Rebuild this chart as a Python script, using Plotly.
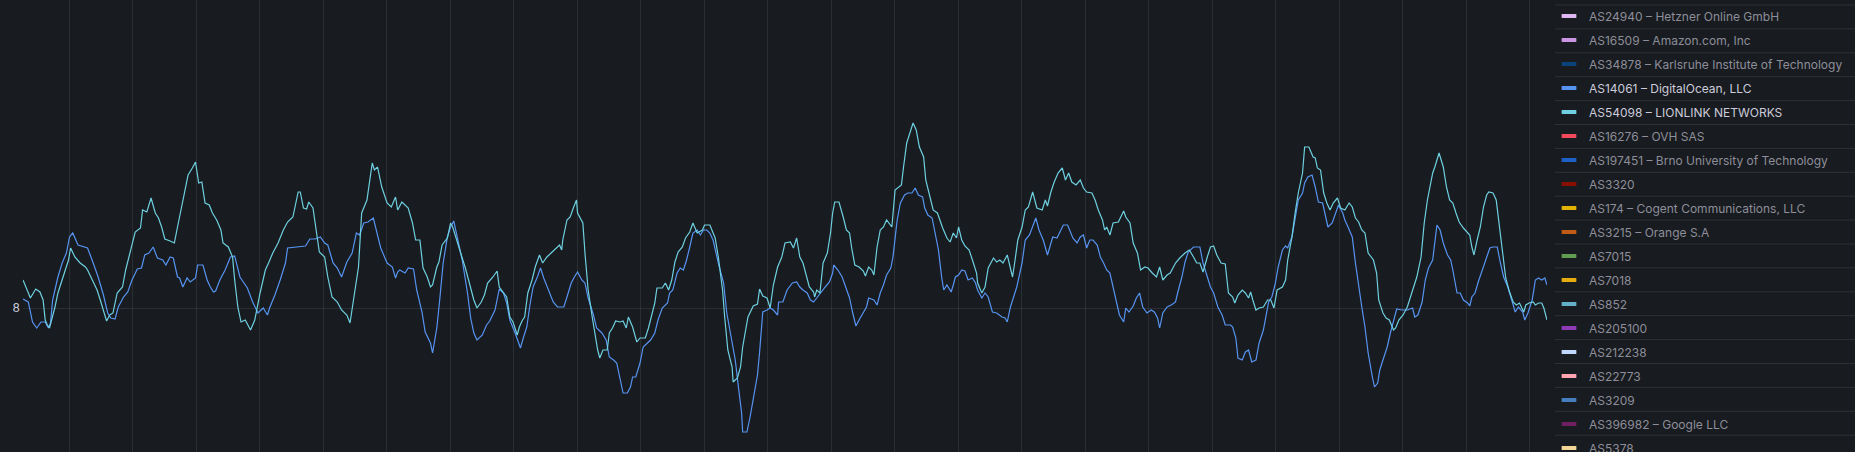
import plotly.graph_objects as go
import pandas as pd

# ---- data: minutes since window start, values ----
lionlink_t = [0,4,7,12,16,19,21,23,25,27,
30,33,37,40,43,45,49,54,59,61,
66,70,73,76,79,82,85,89,94,97,
103,106,111,113,117,121,125,128,131,134,
139,143,146,150,153,156,160,163,166,169,
172,176,179,183,187,189,194,198,200,203,
206,210,215,219,224,229,232,236,241,246,
250,255,260,262,265,268,270,274,277,280,
285,288,292,297,301,306,309,312,317,320,
325,330,332,335,339,344,348,352,354,358,
364,368,371,375,378,382,385,387,391,393,
396,401,404,406,411,415,418,421,424,426,
429,433,436,439,444,448,450,454,457,460,
463,467,469,472,474,477,481,484,488,491,
495,500,505,507,509,510,514,517,520,523,
524,529,531,534,538,541,543,545,548,552,
554,557,560,564,567,570,572,576,578,580,
583,588,591,594,597,599,604,607,610,613,
616,619,623,626,630,633,637,642,644,649,
654,657,661,663,666,670,671,675,678,680,
685,690,694,696,699,703,706,709,713,717,
720,725,728,731,734,737,741,743,747,748,
750,753,756,760,763,765,767,771,775,778,
781,783,786,790,794,796,799,802,804,807,
810,813,816,818,821,824,827,830,832,835,
838,841,844,847,851,853,857,860,864,867,
869,873,876,879,882,884,887,890,894,898,
901,902,906,909,912,917,920,923,926,930,
935,937,940,944,947,950,954,958,963,966,
968,971,974,978,982,985,988,991,995,999,
1002,1005,1010,1013,1016,1020,1022,1024,1027,1030,
1035,1040,1042,1046,1049,1053,1056,1060,1063,1067,
1071,1074,1077,1081,1084,1089,1093,1098,1102,1106,
1109,1112,1115,1119,1122,1125,1128,1132,1136,1139,
1143,1145,1148,1152,1155,1158,1160,1162,1165,1168,
1172,1176,1179,1182,1185,1190,1193,1195,1199,1202,
1205,1209,1211,1215,1219,1221,1223,1226,1229,1232,
1235,1238,1242,1245,1249,1253,1256,1259,1262,1265,
1268,1271,1276,1279,1281,1285,1288,1291,1295,1297,
1300,1304,1308,1311,1314,1317,1321,1324,1327,1332,
1334,1338,1342,1345,1348,1351,1354,1357,1361,1364,
1367,1369,1371,1374,1377,1380,1383,1385,1389,1392,
1395,1399,1401,1404,1408,1411,1414,1418,1420,1423,
1427,1429,1432,1435,1437,1440]

lionlink_vals = [9.4,8.9,8.5,8.95,8.8,8.4,7.4,7.15,7.0,7.4,
8.0,8.75,9.4,9.9,10.4,11.0,10.55,10.25,10.05,9.9,
9.3,8.9,8.4,7.9,7.35,7.65,7.75,8.75,9.05,9.9,
11.25,11.8,12.0,12.9,12.8,13.5,12.75,12.5,12.05,11.45,
11.35,11.25,12.05,13.05,13.8,14.65,15.0,15.3,14.25,14.3,
13.25,13.15,12.75,12.4,11.9,11.25,11.05,10.55,9.4,8.05,
7.3,7.4,6.9,7.4,8.75,9.9,10.25,10.75,11.25,11.9,
12.3,12.55,13.8,13.8,13.0,12.95,13.3,13.0,11.9,10.8,
10.55,9.55,8.55,8.3,7.9,7.65,7.25,8.3,10.05,12.75,
13.4,15.25,14.9,15.05,14.05,13.25,13.05,13.55,12.9,13.3,
13.0,12.25,11.4,11.4,10.0,9.55,9.05,9.15,10.05,10.3,
11.15,11.5,12.25,12.05,11.25,10.5,10.0,9.4,8.8,8.4,
8.0,8.3,8.65,9.25,9.55,9.85,9.05,8.75,8.55,7.55,
7.3,6.65,7.05,7.4,7.55,8.75,9.4,10.05,10.65,10.25,
10.55,10.8,11.05,11.15,10.9,11.4,12.4,12.55,13.0,13.4,
12.75,12.25,10.75,8.9,7.5,6.55,5.9,5.5,5.9,5.9,
6.75,7.0,7.35,7.3,7.35,7.0,7.55,7.05,6.65,6.3,
6.5,6.5,7.0,7.65,8.25,9.0,9.0,9.25,8.9,9.4,
10.3,10.8,11.05,11.5,11.8,12.25,11.75,11.9,12.15,12.15,
11.5,10.55,8.9,7.55,5.9,5.05,4.3,4.5,5.05,6.05,
7.55,8.1,8.2,8.95,8.6,8.5,8.0,9.15,10.05,10.55,
11.25,11.3,11.0,11.5,10.55,10.25,9.4,9.05,8.8,8.55,
8.9,8.75,10.25,10.75,11.75,12.75,13.3,13.3,12.55,11.9,
11.75,11.0,10.15,10.05,9.85,9.6,10.05,9.9,9.65,11.05,
11.9,12.05,12.4,12.25,12.05,13.9,14.05,14.15,15.05,16.25,
16.75,17.25,16.9,16.05,15.55,14.4,13.55,12.9,12.75,12.25,
12.0,11.5,11.3,11.75,11.5,12.05,11.4,11.1,10.9,10.25,
9.75,9.25,8.75,9.05,10.0,10.5,10.3,10.4,10.25,10.65,
9.55,10.25,11.4,12.05,12.9,13.05,13.8,13.0,12.9,13.4,
13.1,13.75,14.25,14.75,15.0,14.4,14.75,14.3,14.15,14.4,
14.0,13.8,13.75,13.4,12.9,12.4,11.9,12.05,11.65,12.25,
12.3,12.85,12.55,12.25,11.25,10.75,9.9,10.05,10.0,9.75,
9.55,10.05,9.4,9.65,9.75,10.25,10.5,10.75,10.9,10.55,
10.25,10.25,9.8,10.55,11.05,11.1,10.65,10.25,10.2,8.75,
8.55,8.25,8.65,8.9,8.75,8.5,8.8,8.4,7.9,8.0,
8.05,8.4,8.4,8.0,8.9,9.05,9.4,10.4,11.55,12.75,
13.75,14.75,16.05,16.05,15.55,15.5,15.0,14.9,13.75,13.25,
12.9,13.25,13.5,13.0,12.9,13.25,13.05,12.5,12.3,11.9,
11.75,10.75,10.4,9.75,8.4,7.75,7.5,7.4,6.9,7.0,
7.4,7.65,8.05,8.55,9.05,9.55,10.55,12.25,13.4,14.75,
15.05,15.75,15.05,14.05,13.4,13.25,12.75,12.3,12.0,11.8,
11.65,11.05,10.65,11.4,12.05,13.05,13.65,13.8,13.75,13.4,
12.05,10.25,9.5,8.9,8.3,8.15,8.25,7.8,8.15,8.25,
8.3,8.15,8.25,8.25,8.0,7.4]

digitalocean_t = [0,5,9,13,17,21,24,26,28,33,
37,41,44,47,52,59,61,66,71,76,
80,83,87,90,95,99,103,108,112,115,
119,123,127,132,135,139,142,146,148,151,
155,158,163,165,170,174,177,180,182,186,
191,196,200,205,212,217,222,227,231,233,
238,243,248,250,259,267,271,276,281,285,
288,293,297,301,306,311,315,318,322,326,
331,335,338,344,349,352,354,356,361,364,
369,372,377,380,385,387,391,394,397,401,
404,407,410,415,420,423,426,429,434,438,
441,446,450,454,457,460,465,470,473,476,
479,482,486,489,492,496,501,505,509,511,
514,518,521,524,528,531,534,539,542,547,
551,554,558,561,564,567,571,574,576,579,
583,586,590,593,597,600,604,609,611,614,
618,621,624,627,630,633,637,640,643,646,
649,652,657,662,665,668,671,673,676,679,
680,684,687,690,694,696,698,699,703,706,
709,713,714,718,722,727,731,734,737,741,
744,747,750,754,758,762,765,766,770,774,
777,781,784,787,790,794,797,799,804,807,
810,813,816,820,822,826,829,833,836,840,
843,846,850,852,855,859,862,865,868,870,
873,877,879,881,884,887,890,893,897,900,
902,906,909,912,916,920,925,928,930,933,
936,939,944,947,951,954,957,960,964,968,
971,973,977,980,983,987,989,992,996,999,
1002,1005,1008,1011,1015,1018,1021,1024,1027,1030,
1034,1036,1040,1042,1045,1049,1052,1055,1058,1062,
1066,1069,1072,1074,1077,1081,1085,1089,1091,1095,
1098,1101,1106,1109,1112,1115,1119,1122,1125,1129,
1133,1136,1141,1143,1146,1148,1152,1155,1158,1161,
1165,1168,1172,1175,1177,1180,1183,1186,1190,1193,
1195,1199,1202,1205,1209,1211,1214,1218,1221,1224,
1228,1230,1233,1237,1240,1243,1247,1249,1252,1256,
1259,1262,1265,1268,1271,1275,1277,1280,1282,1285,
1289,1292,1295,1298,1303,1308,1313,1315,1318,1322,
1325,1328,1332,1336,1339,1342,1346,1349,1351,1355,
1358,1361,1365,1367,1369,1372,1375,1379,1383,1386,
1389,1393,1396,1399,1403,1407,1410,1413,1417,1419,
1422,1426,1429,1432,1435,1438,1440]

digitalocean_vals = [8.45,8.3,7.3,7.0,7.3,7.3,7.0,7.25,8.4,9.55,
10.25,10.75,11.55,11.75,11.15,11.05,11.0,10.3,9.55,8.65,
7.75,7.5,7.45,8.05,8.55,8.8,9.4,9.95,10.0,10.65,
10.75,11.05,10.5,10.4,10.15,10.55,10.5,9.55,9.5,9.05,
9.5,9.3,9.5,10.15,10.15,9.4,9.05,8.8,8.85,9.4,
9.9,10.55,10.6,9.55,9.0,8.3,7.75,8.0,7.65,8.0,
8.65,9.4,10.25,11.0,11.05,11.1,11.45,11.45,11.55,11.25,
11.15,10.25,10.0,9.55,10.3,10.75,11.75,11.65,12.25,12.3,
12.5,11.55,11.0,10.25,10.05,9.5,9.8,9.9,9.75,10.0,
9.95,8.9,7.8,6.8,6.25,5.75,7.0,8.55,10.25,11.55,
12.05,12.35,11.55,10.4,8.75,7.5,6.75,6.4,6.65,7.15,
7.35,7.9,8.95,8.75,8.25,7.4,6.75,6.0,6.55,7.05,
8.15,9.05,9.55,10.0,9.5,9.0,8.3,8.05,8.05,8.05,
8.55,9.25,9.55,9.8,9.4,9.25,8.5,7.65,7.0,6.75,
6.4,5.55,5.4,5.25,4.5,3.75,3.75,4.05,4.55,4.55,
5.25,6.05,6.25,6.4,6.75,7.4,8.0,8.25,8.75,8.9,
9.75,10.0,9.9,10.4,11.05,11.75,11.9,11.65,11.9,11.9,
11.75,11.4,10.25,9.25,7.75,6.9,6.05,5.4,4.05,2.75,
1.8,1.8,2.55,3.55,4.65,5.8,7.05,7.8,7.9,8.0,
7.9,7.65,8.3,8.3,8.9,9.25,9.3,9.05,8.9,8.75,
8.4,8.3,8.5,8.8,9.05,9.3,9.75,10.15,9.9,9.55,
9.05,8.5,7.75,7.1,7.4,7.8,8.05,8.5,8.4,8.15,
8.75,9.15,9.65,10.0,10.55,12.4,13.25,13.65,13.75,13.75,
14.0,13.65,13.55,13.0,12.65,12.5,11.75,10.9,9.55,8.9,
9.15,8.8,9.15,9.55,9.65,9.9,9.85,9.4,9.5,9.25,
8.9,8.5,8.75,8.55,7.8,7.75,7.55,7.5,7.3,8.05,
8.55,9.05,10.25,11.4,11.65,12.05,12.5,11.9,11.4,10.65,
11.25,11.55,11.5,11.8,12.15,12.15,11.9,11.5,11.25,11.55,
11.65,11.0,11.4,11.4,11.15,10.55,10.25,9.9,9.75,9.05,
8.25,7.65,7.3,8.0,7.8,8.1,8.5,8.75,8.05,7.75,
7.9,7.8,7.5,7.0,7.75,8.05,8.15,8.3,8.75,9.55,
10.3,10.8,11.05,11.05,11.05,10.25,9.55,9.05,8.75,8.05,
7.65,7.15,7.15,7.05,6.5,5.5,5.4,5.8,5.9,5.3,
5.4,6.25,6.9,7.75,8.3,8.55,9.15,10.05,10.9,11.1,
11.0,11.55,12.4,13.4,13.75,14.25,14.55,14.65,14.05,13.3,
13.25,12.75,12.05,12.25,12.65,13.15,12.75,12.4,12.05,11.55,
10.25,9.05,8.05,7.05,5.75,4.55,4.05,4.25,4.9,5.4,
6.05,6.75,7.4,7.95,7.9,7.9,8.0,7.55,7.65,8.3,
9.4,10.0,10.4,12.15,11.9,11.25,10.65,10.4,9.9,8.75,
8.75,8.4,8.25,8.1,8.55,8.75,9.3,9.9,10.55,11.0,
11.05,11.05,10.25,9.55,9.05,8.3,7.8,8.05,7.8,7.4,
7.75,8.4,9.4,9.5,9.4,9.5,9.15]

assert len(lionlink_t) == len(lionlink_vals), (len(lionlink_t), len(lionlink_vals))
assert len(digitalocean_t) == len(digitalocean_vals), (len(digitalocean_t), len(digitalocean_vals))

legend_names = [
    "AS24940 – Hetzner Online GmbH",
    "AS16509 – Amazon.com, Inc",
    "AS34878 – Karlsruhe Institute of Technology",
    "AS14061 – DigitalOcean, LLC",
    "AS54098 – LIONLINK NETWORKS",
    "AS16276 – OVH SAS",
    "AS197451 – Brno University of Technology",
    "AS3320",
    "AS174 – Cogent Communications, LLC",
    "AS3215 – Orange S.A",
    "AS7015",
    "AS7018",
    "AS852",
    "AS205100",
    "AS212238",
    "AS22773",
    "AS3209",
    "AS396982 – Google LLC",
    "AS5378",
]
legend_colors = [
    "#DEB6F2", "#CA95E5", "#0A437C", "#5794F2", "#6ED0E0", "#F2495C",
    "#1F60C4", "#890F02", "#E0B400", "#C15C17", "#629E51", "#E5AC0E",
    "#64B0C8", "#8F3BB8", "#C0D8FF", "#FFA6B0", "#447EBC", "#6D1F62",
    "#F4D598",
]
active_series = {"AS14061 – DigitalOcean, LLC", "AS54098 – LIONLINK NETWORKS"}

# ---- styling ----
BG = "#181b1f"
GRID = "rgba(240,250,255,0.09)"
TEXT = "#ccccdc"
DIM = "#8d8e9a"
FONT = "Inter"

W, H = 1855, 452
ML, MR, MT, MB = 23, 308, 0, 0
PLOT_W = W - ML - MR
SEP_LEFT_PX = 1555
LEG_LEFT_PX = 1549
LEG_TOP_PX = 1.5
ROW0_PX = 5
ROW_PITCH = 23.9

start = pd.Timestamp("2024-05-14 00:16:30")
end = start + pd.Timedelta(minutes=1440)

fig = go.Figure()
fig.add_trace(go.Scatter(
    x=start + pd.to_timedelta(digitalocean_t, unit="min"), y=digitalocean_vals,
    mode="lines", line=dict(color="#5794F2", width=1.2), showlegend=False,
    name="AS14061 – DigitalOcean, LLC", hoverinfo="skip"))
fig.add_trace(go.Scatter(
    x=start + pd.to_timedelta(lionlink_t, unit="min"), y=lionlink_vals,
    mode="lines", line=dict(color="#6ED0E0", width=1.2), showlegend=False,
    name="AS54098 – LIONLINK NETWORKS", hoverinfo="skip"))

for name, color in zip(legend_names, legend_colors):
    label = name if name in active_series else f'<span style="color:{DIM}">{name}</span>'
    fig.add_trace(go.Scatter(
        x=[None], y=[None], mode="markers", name=label, legendgroup=name,
        marker=dict(symbol="line-ew", size=10.5, color=color,
                    line=dict(width=4, color=color)),
        showlegend=True, hoverinfo="skip"))

shapes = []
x0 = (SEP_LEFT_PX - ML) / PLOT_W
x1 = (W - ML) / PLOT_W
for k in range(len(legend_names) + 1):
    ypx = ROW0_PX + ROW_PITCH * k
    yp = 1 - ypx / H
    shapes.append(dict(type="line", xref="paper", yref="paper", x0=x0, x1=x1,
                       y0=yp, y1=yp, line=dict(color="rgba(204,204,220,0.12)", width=1),
                       layer="above"))

fig.update_layout(
    width=W, height=H,
    paper_bgcolor=BG, plot_bgcolor=BG,
    margin=dict(l=ML, r=MR, t=MT, b=MB, autoexpand=False),
    font=dict(family=FONT, size=12, color=TEXT),
    showlegend=True,
    legend=dict(
        x=(LEG_LEFT_PX - ML) / PLOT_W, xanchor="left",
        y=1 - LEG_TOP_PX / H, yanchor="top",
        bgcolor="rgba(0,0,0,0)", borderwidth=0,
        font=dict(family=FONT, size=12, color=TEXT),
        tracegroupgap=5, itemclick=False, itemdoubleclick=False,
        maxheight=1000,
    ),
    shapes=shapes,
    xaxis=dict(
        type="date", range=[start, end], showgrid=True, gridcolor=GRID, gridwidth=1,
        dtick=3600000, tick0="2024-05-14 00:00", showticklabels=False, ticks="",
        zeroline=False, showline=False,
    ),
    yaxis=dict(
        range=[0.8, 23.4], tickmode="array", tickvals=[8], ticktext=["8"],
        showgrid=True, gridcolor=GRID, gridwidth=1, zeroline=False, showline=False,
        ticks="", tickfont=dict(family=FONT, size=12, color=TEXT), ticklabelstandoff=2,
    ),
)

fig.write_html(
    "out.html",
    config={"displayModeBar": False},
    post_script="document.body.style.margin='0';document.body.style.background='#181b1f';",
)
